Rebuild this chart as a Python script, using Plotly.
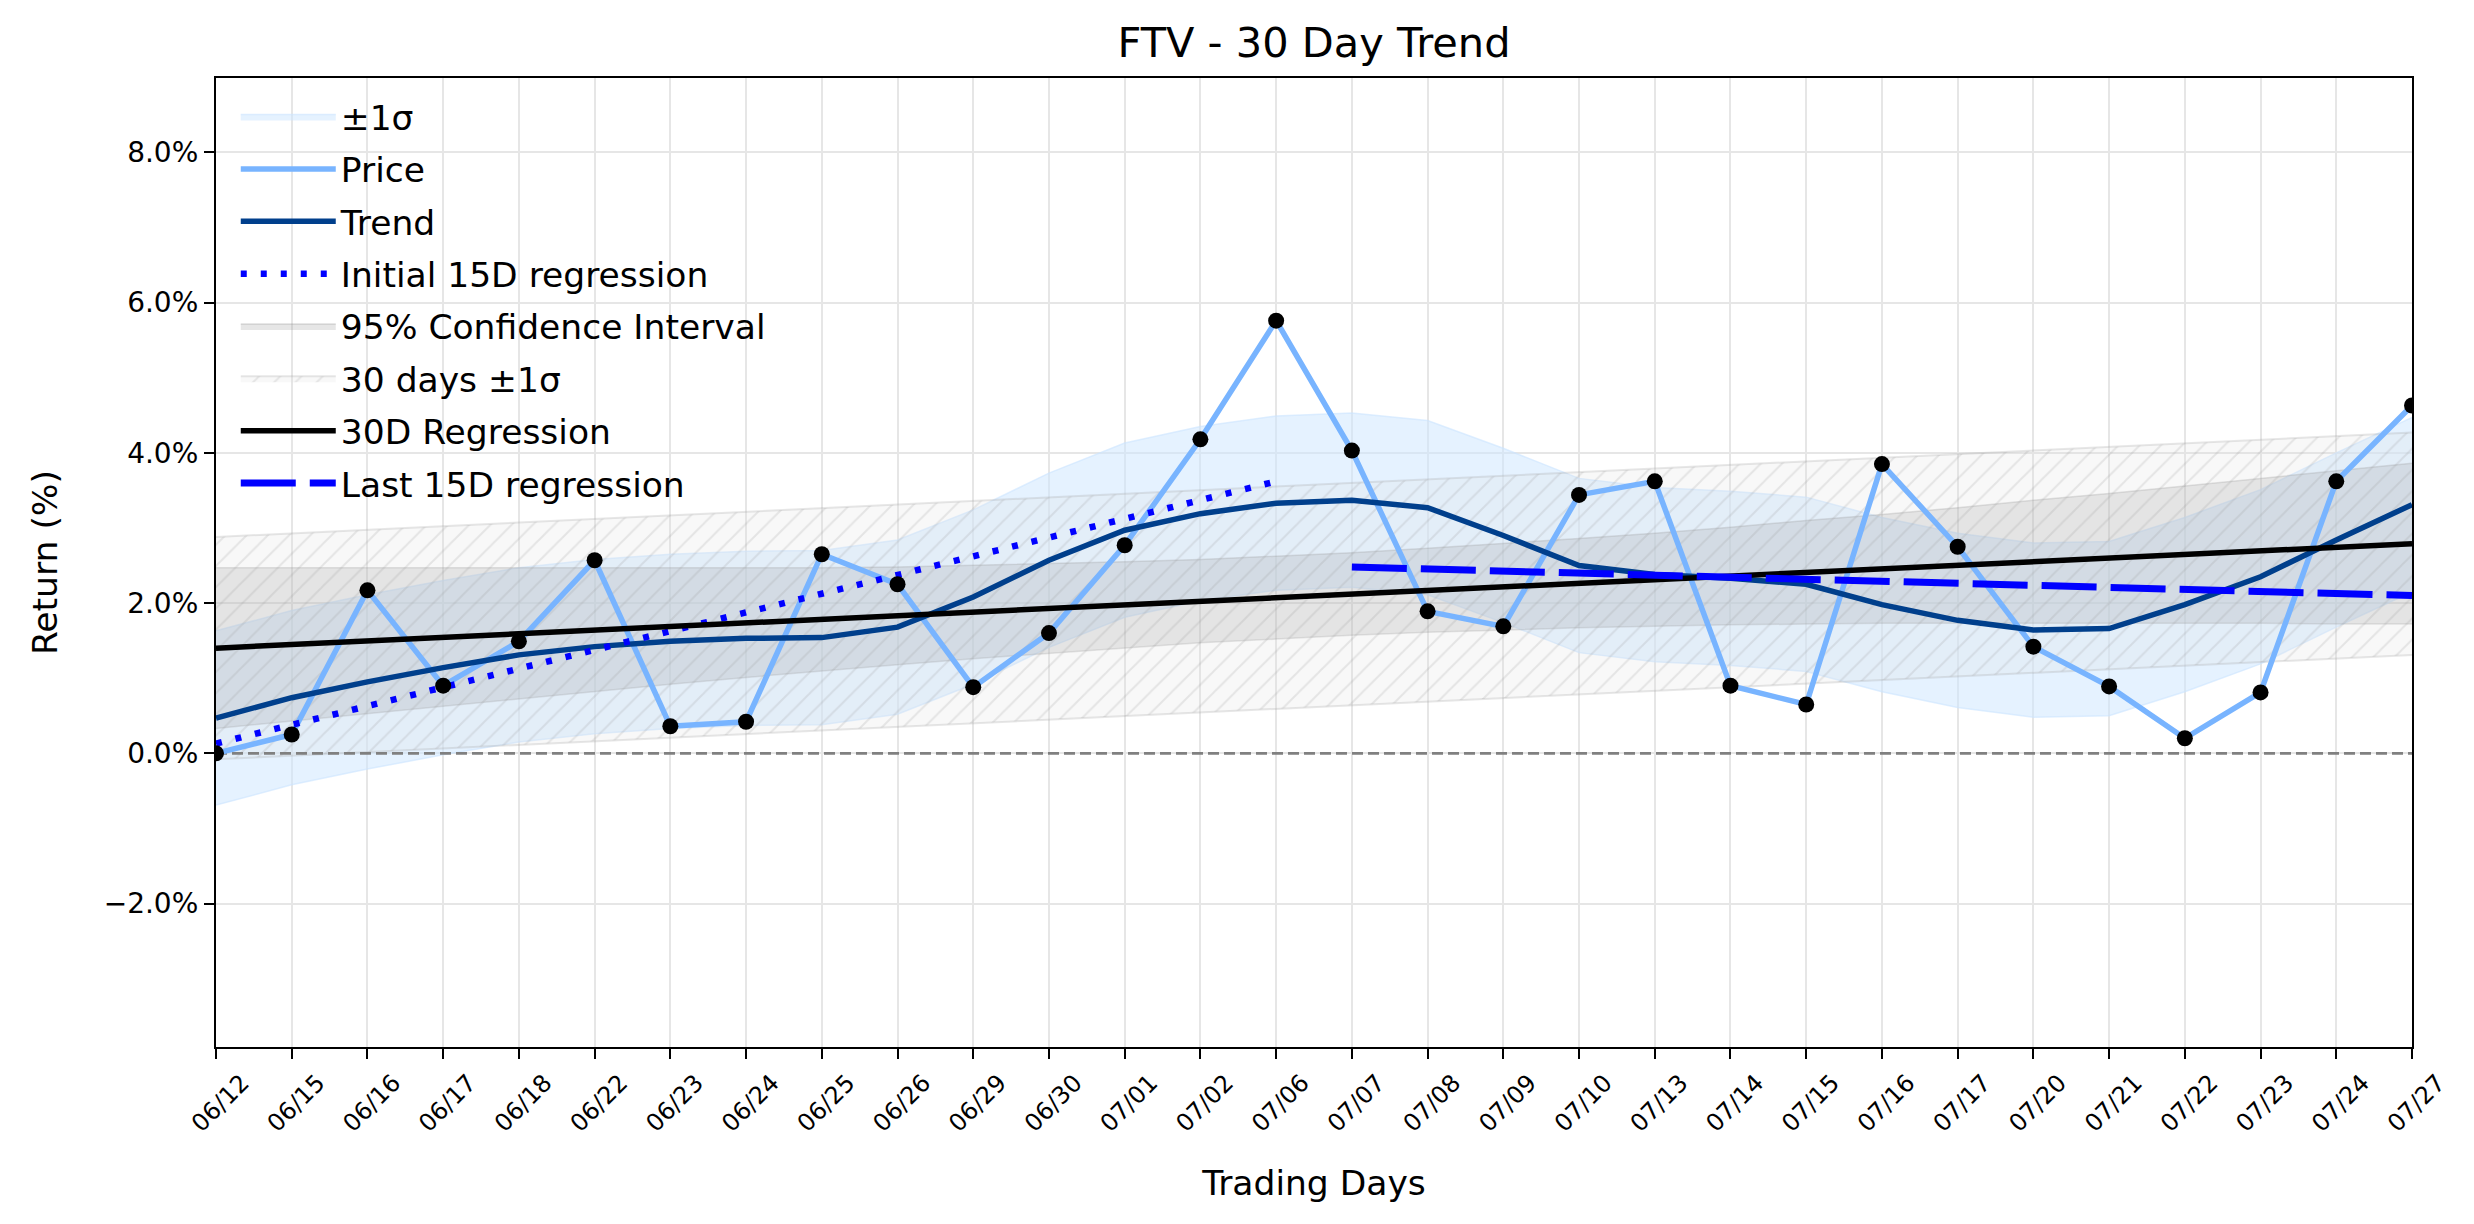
import plotly.graph_objects as go

# ---------------- data ----------------
dates = ["06/12", "06/15", "06/16", "06/17", "06/18", "06/22", "06/23", "06/24",
         "06/25", "06/26", "06/29", "06/30", "07/01", "07/02", "07/06", "07/07",
         "07/08", "07/09", "07/10", "07/13", "07/14", "07/15", "07/16", "07/17",
         "07/20", "07/21", "07/22", "07/23", "07/24", "07/27"]

price = [0.00, 0.25, 2.17, 0.90, 1.49, 2.57, 0.36, 0.42, 2.65, 2.25,
         0.88, 1.60, 2.77, 4.18, 5.76, 4.03, 1.89, 1.69, 3.44, 3.62,
         0.90, 0.65, 3.85, 2.75, 1.42, 0.89, 0.20, 0.81, 3.62, 4.63]

trend = [0.47, 0.74, 0.95, 1.14, 1.31, 1.42, 1.49, 1.53, 1.54, 1.68,
         2.08, 2.57, 2.97, 3.19, 3.33, 3.37, 3.27, 2.90, 2.50, 2.38,
         2.33, 2.25, 1.98, 1.77, 1.64, 1.66, 1.98, 2.35, 2.84, 3.31]

sigma_upper = [1.63, 1.90, 2.11, 2.30, 2.47, 2.58, 2.65, 2.69, 2.70, 2.84,
               3.24, 3.73, 4.13, 4.35, 4.49, 4.53, 4.43, 4.06, 3.66, 3.54,
               3.49, 3.41, 3.14, 2.93, 2.80, 2.82, 3.14, 3.51, 4.00, 4.47]
sigma_lower = [-0.69, -0.42, -0.21, -0.02, 0.15, 0.26, 0.33, 0.37, 0.38, 0.52,
               0.92, 1.41, 1.81, 2.03, 2.17, 2.21, 2.11, 1.74, 1.34, 1.22,
               1.17, 1.09, 0.82, 0.61, 0.48, 0.50, 0.82, 1.19, 1.68, 2.15]

ci_upper = [2.47, 2.47, 2.46, 2.46, 2.46, 2.46, 2.46, 2.46, 2.47, 2.48,
            2.50, 2.52, 2.55, 2.58, 2.62, 2.67, 2.73, 2.79, 2.86, 2.93,
            3.01, 3.10, 3.18, 3.27, 3.37, 3.46, 3.56, 3.66, 3.76, 3.86]
ci_lower = [0.33, 0.43, 0.53, 0.63, 0.73, 0.82, 0.92, 1.01, 1.10, 1.18,
            1.26, 1.33, 1.40, 1.47, 1.52, 1.57, 1.61, 1.64, 1.67, 1.69,
            1.71, 1.72, 1.73, 1.73, 1.73, 1.73, 1.73, 1.73, 1.72, 1.72]

band30_upper = [2.88, 4.27]     # 30 days +1 sigma (first day, last day)
band30_lower = [-0.08, 1.31]    # 30 days -1 sigma (first day, last day)
reg30 = [1.40, 2.79]            # 30D regression (first day, last day)
reg_first15 = [0.13, 3.62]      # initial 15D regression (day 1, day 15)
reg_last15 = [2.48, 2.10]       # last 15D regression (day 16, day 30)
zero_level = [0.0, 0.0]

y_tickvals = [-2, 0, 2, 4, 6, 8]
y_ticktext = ["\u22122.0%", "0.0%", "2.0%", "4.0%", "6.0%", "8.0%"]

# ---------------- figure ----------------
FONT = "DejaVu Sans"
fig = go.Figure()

# +-1 sigma band
fig.add_trace(go.Scatter(x=dates, y=sigma_lower, mode="lines",
                         line=dict(width=1.5, color="rgba(204,229,255,0.6)"),
                         showlegend=False, hoverinfo="skip", legendgroup="g1"))
fig.add_trace(go.Scatter(x=dates, y=sigma_upper, mode="lines", fill="tonexty",
                         fillcolor="rgba(204,229,255,0.5)",
                         line=dict(width=1.5, color="rgba(204,229,255,0.6)"),
                         name="\u00b11\u03c3", legendgroup="g1", legendrank=1))

# 95% CI
fig.add_trace(go.Scatter(x=dates, y=ci_lower, mode="lines",
                         line=dict(width=1.5, color="rgba(128,128,128,0.22)"),
                         showlegend=False, hoverinfo="skip", legendgroup="g5"))
fig.add_trace(go.Scatter(x=dates, y=ci_upper, mode="lines", fill="tonexty",
                         fillcolor="rgba(128,128,128,0.2)",
                         line=dict(width=1.5, color="rgba(128,128,128,0.25)"),
                         name="95% Confidence Interval", legendgroup="g5", legendrank=5))

# 30 days +-1 sigma (hatched)
fig.add_trace(go.Scatter(x=[dates[0], dates[-1]], y=band30_lower, mode="lines",
                         line=dict(width=2, color="rgba(160,160,160,0.25)"),
                         showlegend=False, hoverinfo="skip", legendgroup="g6"))
fig.add_trace(go.Scatter(x=[dates[0], dates[-1]], y=band30_upper, mode="lines", fill="tonexty",
                         fillcolor="rgba(220,220,220,0.2)",
                         fillpattern=dict(shape="/", fgcolor="rgba(150,150,150,0.4)",
                                          bgcolor="rgba(220,220,220,0.2)",
                                          size=15, solidity=0.13),
                         line=dict(width=2, color="rgba(160,160,160,0.25)"),
                         name="30 days \u00b11\u03c3", legendgroup="g6", legendrank=6))

# zero line
fig.add_trace(go.Scatter(x=[dates[0], dates[-1]], y=zero_level, mode="lines",
                         line=dict(width=2.8, color="#808080", dash="11px,5px"),
                         showlegend=False, hoverinfo="skip"))

# Price
fig.add_trace(go.Scatter(x=dates, y=price, mode="lines",
                         line=dict(width=5.5, color="#78b4ff"),
                         name="Price", legendgroup="g2", legendrank=2))
# Trend
fig.add_trace(go.Scatter(x=dates, y=trend, mode="lines",
                         line=dict(width=5.5, color="#003f8c"),
                         name="Trend", legendgroup="g3", legendrank=3))
# Initial 15D regression
fig.add_trace(go.Scatter(x=[dates[0], dates[14]], y=reg_first15, mode="lines",
                         line=dict(width=6.5, color="#0000ff", dash="6px,14px"),
                         name="Initial 15D regression", legendgroup="g4", legendrank=4))
# 30D regression
fig.add_trace(go.Scatter(x=[dates[0], dates[-1]], y=reg30, mode="lines",
                         line=dict(width=5.5, color="black"),
                         name="30D Regression", legendgroup="g7", legendrank=7))
# Last 15D regression
fig.add_trace(go.Scatter(x=[dates[15], dates[-1]], y=reg_last15, mode="lines",
                         line=dict(width=7, color="#0000ff", dash="55px,14px"),
                         name="Last 15D regression", legendgroup="g8", legendrank=8))
# Price markers
fig.add_trace(go.Scatter(x=dates, y=price, mode="markers",
                         marker=dict(size=16, color="black"),
                         showlegend=False, hoverinfo="skip"))

fig.update_layout(
    width=2474, height=1224,
    margin=dict(l=216, r=62, t=78, b=177),
    paper_bgcolor="white", plot_bgcolor="white",
    font=dict(family=FONT, size=28, color="black"),
    title=dict(text="FTV - 30 Day Trend", x=0.5, xref="paper", xanchor="center",
               y=1 - 42 / 1224, yref="container", yanchor="middle",
               font=dict(family=FONT, size=41.5, color="black")),
    legend=dict(x=0.009, y=0.99, xanchor="left", yanchor="top",
                bgcolor="rgba(0,0,0,0)", borderwidth=0,
                font=dict(family=FONT, size=34.5, color="black"),
                itemwidth=95, tracegroupgap=4.5, traceorder="grouped"),
    showlegend=True,
)

fig.update_xaxes(
    type="category", range=[0, len(dates) - 1],
    tickangle=-45, tickfont=dict(family=FONT, size=24, color="black"),
    ticks="outside", ticklen=10, tickwidth=2.2, tickcolor="black",
    showline=True, linecolor="black", linewidth=2.2, mirror=True,
    showgrid=True, gridcolor="#e6e6e6", gridwidth=2.2,
    ticklabelshift=26,
    title=dict(text="Trading Days", font=dict(family=FONT, size=34.5, color="black"), standoff=34),
    zeroline=False,
)
fig.update_yaxes(
    range=[-3.91, 8.99], tickvals=y_tickvals, ticktext=y_ticktext,
    tickfont=dict(family=FONT, size=28, color="black"),
    ticks="outside", ticklen=10, tickwidth=2.2, tickcolor="black",
    showline=True, linecolor="black", linewidth=2.2, mirror=True,
    showgrid=True, gridcolor="#e6e6e6", gridwidth=2.2,
    title=dict(text="Return (%)", font=dict(family=FONT, size=34.5, color="black"), standoff=36),
    zeroline=False,
)

fig.write_html("out.html")
